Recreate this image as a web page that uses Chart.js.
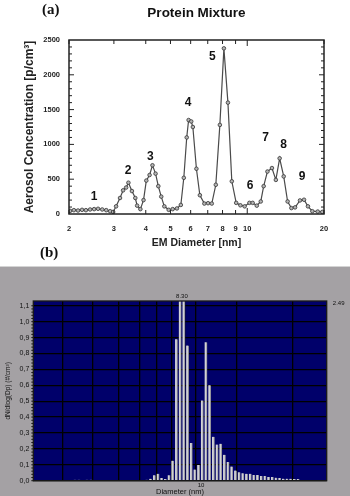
<!DOCTYPE html>
<html>
<head>
<meta charset="utf-8">
<script src="https://cdn.jsdelivr.net/npm/chart.js@4.4.0/dist/chart.umd.min.js"></script>
<style>
  body { margin: 0; width: 350px; height: 496px; background: #fff; position: relative; overflow: hidden; }
  #top { position: absolute; left: 0; top: 0; }
  #panel { position: absolute; left: 0; top: 266px; width: 350px; height: 230px; background: #a4a1a4; border-top: 1px solid #d4d4d4; }
  #bottom { position: absolute; left: 0; top: 267px; }
  .tag { position: absolute; font-family: "Liberation Serif", "DejaVu Serif", serif; font-size: 15px; font-weight: bold; color: #111; }
</style>
</head>
<body>
<canvas id="top" width="350" height="262"></canvas>
<div class="tag" style="left:42px; top:1px;">(a)</div>
<div class="tag" style="left:40px; top:244px;">(b)</div>
<div id="panel"></div>
<canvas id="bottom" width="350" height="229"></canvas>
<script>
// (a) EM diameter (nm) vs aerosol concentration (p/cm3)
const emDiameter = [2.02, 2.09, 2.17, 2.25, 2.33, 2.42, 2.51, 2.60, 2.70, 2.80, 2.90, 2.98,
  3.06, 3.17, 3.26, 3.35, 3.42, 3.53, 3.64, 3.70, 3.81, 3.92, 4.02, 4.14, 4.25, 4.37, 4.48,
  4.60, 4.73, 4.92, 5.10, 5.30, 5.49, 5.64, 5.79, 5.89, 6.03, 6.12, 6.32, 6.52, 6.79, 7.02,
  7.26, 7.53, 7.81, 8.10, 8.40, 8.70, 9.05, 9.40, 9.77, 10.2, 10.5, 10.9, 11.3, 11.6, 12.0,
  12.5, 12.95, 13.4, 13.9, 14.4, 14.9, 15.4, 16.1, 16.7, 17.3, 18.0, 18.9, 19.7];
const concentration = [45, 55, 50, 60, 55, 65, 70, 75, 65, 55, 40, 30,
  110, 230, 340, 380, 450, 330, 230, 120, 70, 200, 480, 560, 700, 580, 400,
  250, 110, 60, 70, 80, 130, 520, 1100, 1350, 1330, 1250, 650, 270, 150, 155,
  150, 420, 1280, 2380, 1600, 470, 160, 125, 110, 160, 160, 120, 180, 400, 610,
  660, 490, 800, 540, 180, 85, 95, 195, 205, 110, 40, 35, 30];
const peakNames = ['1', '2', '3', '4', '5', '6', '7', '8', '9'];
const peakDiameter = [2.51, 3.41, 4.17, 5.86, 7.3, 10.26, 11.8, 13.9, 16.4];
const peakHeight = [249, 622, 823, 1600, 2260, 407, 1096, 996, 536];
const topXTicks = [2, 3, 4, 5, 6, 7, 8, 9, 10, 20];
const topYTicks = [0, 500, 1000, 1500, 2000, 2500];

// (b) size bins (nm) vs dN/dlog(Dp)
const binDiameter = [2.925, 3.042, 3.288, 3.419, 5.483, 5.684, 5.893, 6.109, 6.334, 6.567,
  6.808, 7.055, 7.311, 7.580, 7.858, 8.147, 8.446, 8.757, 9.080, 9.408, 9.750, 10.11, 10.48,
  10.87, 11.27, 11.68, 12.11, 12.55, 13.00, 13.48, 13.98, 14.49, 15.02, 15.57, 16.15, 16.73,
  17.34, 17.98, 18.64, 19.32, 20.03, 20.77, 21.53, 22.31, 23.12, 23.97, 24.85, 25.76];
const dNdlogDp = [0.006, 0.006, 0.006, 0.006, 0.005, 0.005, 0.006, 0.012, 0.035, 0.043,
  0.017, 0.011, 0.035, 0.126, 0.89, 2.49, 1.62, 0.85, 0.237, 0.07, 0.098, 0.505, 0.87,
  0.60, 0.276, 0.227, 0.232, 0.163, 0.117, 0.089, 0.064, 0.053, 0.047, 0.043, 0.043, 0.036,
  0.036, 0.030, 0.030, 0.024, 0.024, 0.019, 0.017, 0.013, 0.013, 0.012, 0.010, 0.010];
const bottomYTicks = [0, 0.1, 0.2, 0.3, 0.4, 0.5, 0.6, 0.7, 0.8, 0.9, 1.0, 1.1];
const bottomXGrid = [3, 4, 5, 6, 7, 8, 9, 10, 20, 30];

const sans = "'Liberation Sans', Arial, sans-serif";
Chart.defaults.font.family = sans;

// frame, inward ticks, title and peak numbers for (a)
const topDecor = {
  id: 'topDecor',
  afterDraw(chart) {
    const ctx = chart.ctx;
    const a = chart.chartArea;
    const xs = chart.scales.x;
    const ys = chart.scales.y;
    ctx.save();
    ctx.strokeStyle = '#222';
    ctx.lineWidth = 1.5;
    ctx.strokeRect(a.left, a.top, a.right - a.left, a.bottom - a.top);
    ctx.lineWidth = 1;
    for (let v = 100; v < 2500; v += 100) {
      const y = ys.getPixelForValue(v);
      const len = v % 500 === 0 ? 5 : 3;
      ctx.beginPath();
      ctx.moveTo(a.left, y); ctx.lineTo(a.left + len, y);
      ctx.moveTo(a.right, y); ctx.lineTo(a.right - len, y);
      ctx.stroke();
    }
    topXTicks.forEach(v => {
      const x = xs.getPixelForValue(v);
      const len = v === 10 ? 6 : 4;
      ctx.beginPath();
      ctx.moveTo(x, a.bottom); ctx.lineTo(x, a.bottom - len);
      ctx.moveTo(x, a.top); ctx.lineTo(x, a.top + len);
      ctx.stroke();
    });
    ctx.fillStyle = '#111';
    ctx.textAlign = 'center';
    ctx.textBaseline = 'middle';
    ctx.font = 'bold 13.5px ' + sans;
    ctx.fillText('Protein Mixture', (a.left + a.right) / 2, 13);
    ctx.font = 'bold 12px ' + sans;
    peakNames.forEach((n, i) => {
      ctx.fillText(n, xs.getPixelForValue(peakDiameter[i]), ys.getPixelForValue(peakHeight[i]));
    });
    ctx.restore();
  }
};

new Chart(document.getElementById('top'), {
  type: 'line',
  data: {
    datasets: [{
      data: emDiameter.map((d, i) => ({ x: d, y: concentration[i] })),
      borderColor: '#4a4a4a',
      borderWidth: 1.2,
      pointRadius: 1.8,
      pointBackgroundColor: '#b4b4b4',
      pointBorderColor: '#333',
      pointBorderWidth: 0.8,
      tension: 0
    }]
  },
  options: {
    responsive: false,
    animation: false,
    layout: { padding: { top: 40, right: 26, left: 0, bottom: 0 } },
    plugins: { legend: { display: false }, tooltip: { enabled: false } },
    scales: {
      x: {
        type: 'logarithmic', min: 2, max: 20,
        afterBuildTicks: s => { s.ticks = topXTicks.map(v => ({ value: v })); },
        afterFit: s => { s.height = 48; },
        grid: { display: false, drawTicks: false },
        border: { display: false },
        ticks: { autoSkip: false, maxRotation: 0, padding: 10, color: '#222',
          font: { size: 7.5, weight: 'bold' }, callback: v => String(v) },
        title: { display: true, text: 'EM Diameter [nm]', color: '#222',
          font: { size: 10.5, weight: 'bold' }, padding: { top: 0, bottom: 12.7 } }
      },
      y: {
        min: 0, max: 2500,
        afterBuildTicks: s => { s.ticks = topYTicks.map(v => ({ value: v })); },
        afterFit: s => { s.width = 69; },
        grid: { display: false, drawTicks: false },
        border: { display: false },
        ticks: { padding: 9, color: '#222', font: { size: 7.5, weight: 'bold' },
          callback: v => String(v) },
        title: { display: true, text: 'Aerosol Concentration [p/cm³]', color: '#222',
          font: { size: 12, weight: 'bold' }, padding: { top: 22.8, bottom: 0 } }
      }
    }
  },
  plugins: [topDecor]
});

// navy plot background, frame, minor ticks and small labels for (b)
const bottomDecor = {
  id: 'bottomDecor',
  beforeDraw(chart) {
    const a = chart.chartArea;
    chart.ctx.save();
    chart.ctx.fillStyle = '#00006a';
    chart.ctx.fillRect(a.left, a.top, a.right - a.left, a.bottom - a.top);
    chart.ctx.restore();
  },
  afterDraw(chart) {
    const ctx = chart.ctx;
    const a = chart.chartArea;
    const xs = chart.scales.x;
    const ys = chart.scales.y;
    ctx.save();
    ctx.strokeStyle = '#1a1a1a';
    ctx.lineWidth = 1.3;
    ctx.strokeRect(a.left, a.top, a.right - a.left, a.bottom - a.top);
    ctx.lineWidth = 1;
    for (let v = 0; v <= 1.12; v += 0.02) {
      const y = ys.getPixelForValue(v);
      ctx.beginPath();
      ctx.moveTo(a.left - 2, y); ctx.lineTo(a.left, y);
      ctx.stroke();
    }
    ctx.fillStyle = '#111';
    ctx.textAlign = 'center';
    ctx.textBaseline = 'middle';
    ctx.font = '6px ' + sans;
    ctx.fillText('8.30', xs.getPixelForValue(8.3), a.top - 5);
    ctx.fillText('2.49', a.right + 12, a.top + 2);
    ctx.restore();
  }
};

new Chart(document.getElementById('bottom'), {
  type: 'bar',
  data: {
    datasets: [{
      data: binDiameter.map((d, i) => ({ x: d, y: dNdlogDp[i] })),
      backgroundColor: '#d2d2d6',
      borderColor: '#8c8c94',
      borderWidth: { right: 1 },
      barThickness: 2.5
    }]
  },
  options: {
    responsive: false,
    animation: false,
    layout: { padding: { top: 34, right: 23.3, left: 0, bottom: 0 } },
    plugins: { legend: { display: false }, tooltip: { enabled: false } },
    scales: {
      x: {
        type: 'logarithmic', min: 1.947, max: 34.09,
        afterBuildTicks: s => { s.ticks = bottomXGrid.map(v => ({ value: v })); },
        afterFit: s => { s.height = 15.3; },
        grid: { color: '#000', lineWidth: 1.3, drawTicks: false },
        border: { display: false },
        ticks: { autoSkip: false, maxRotation: 0, padding: 1, color: '#111',
          font: { size: 6 }, callback: v => (v === 10 ? '10' : '') },
        title: { display: true, text: 'Diameter (nm)', color: '#111',
          font: { size: 7.5 }, padding: { top: 0, bottom: 0 } }
      },
      y: {
        min: 0, max: 1.13,
        afterBuildTicks: s => { s.ticks = bottomYTicks.map(v => ({ value: v })); },
        afterFit: s => { s.width = 33.3; },
        grid: { color: '#000', lineWidth: 1.3, drawTicks: false },
        border: { display: false },
        ticks: { padding: 4, color: '#111', font: { size: 7 },
          callback: v => v.toFixed(1).replace('.', ',') },
        title: { display: true, text: 'dN/dlog(Dp) (#/cm³)', color: '#111',
          font: { size: 6.5 }, padding: { top: 4, bottom: 0 } }
      }
    }
  },
  plugins: [bottomDecor]
});
</script>
</body>
</html>
